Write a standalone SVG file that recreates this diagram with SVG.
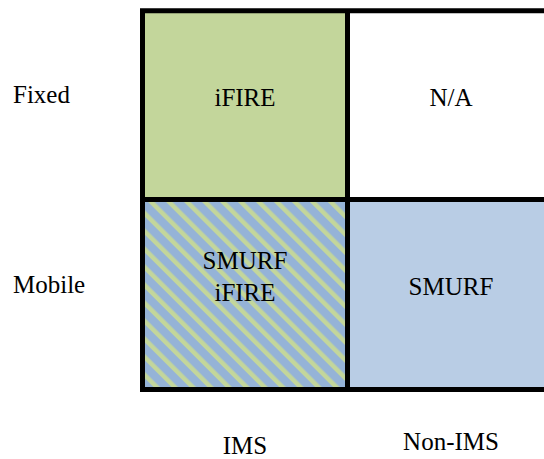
<svg xmlns="http://www.w3.org/2000/svg" width="544" height="459" viewBox="0 0 544 459">
  <style>
    text { font-family: "Liberation Serif", "Times New Roman", serif; font-size: 25px; fill: #000; }
    .mid { text-anchor: middle; }
    .grid { fill: none; stroke: #000; stroke-width: 5; }
  </style>
  <defs>
    <!-- diagonal green/blue stripes for the shared cell -->
    <pattern id="stripes" patternUnits="userSpaceOnUse" width="12.7" height="12.7" patternTransform="rotate(-45)">
      <rect x="0" y="0" width="12.7" height="12.7" fill="#95b3d7"/>
      <rect x="0" y="0" width="4.5" height="12.7" fill="#c3d69b"/>
    </pattern>
  </defs>

  <rect width="544" height="459" fill="#fff"/>

  <!-- row labels -->
  <text x="13" y="103">Fixed</text>
  <text x="13" y="293">Mobile</text>

  <!-- column labels -->
  <text class="mid" x="245" y="454">IMS</text>
  <text class="mid" x="451" y="450">Non-IMS</text>

  <g id="cell-fixed-ims">
    <rect x="142.5" y="10.75" width="205" height="188.75" fill="#c3d69b"/>
    <text class="mid" x="245" y="106">iFIRE</text>
  </g>
  <g id="cell-fixed-nonims">
    <rect x="347.5" y="10.75" width="210" height="188.75" fill="#fff"/>
    <text class="mid" x="451" y="106">N/A</text>
  </g>
  <g id="cell-mobile-ims">
    <rect x="142.5" y="199.5" width="205" height="190" fill="url(#stripes)"/>
    <text class="mid" x="245" y="269">SMURF</text>
    <text class="mid" x="245" y="301">iFIRE</text>
  </g>
  <g id="cell-mobile-nonims">
    <rect x="347.5" y="199.5" width="210" height="190" fill="#b9cde5"/>
    <text class="mid" x="451" y="295">SMURF</text>
  </g>

  <g id="grid-lines">
    <rect class="grid" x="142.5" y="10.75" width="415" height="378.75"/>
    <line class="grid" x1="347.5" y1="10.75" x2="347.5" y2="389.5"/>
    <line class="grid" x1="142.5" y1="199.5" x2="557.5" y2="199.5"/>
  </g>
</svg>
